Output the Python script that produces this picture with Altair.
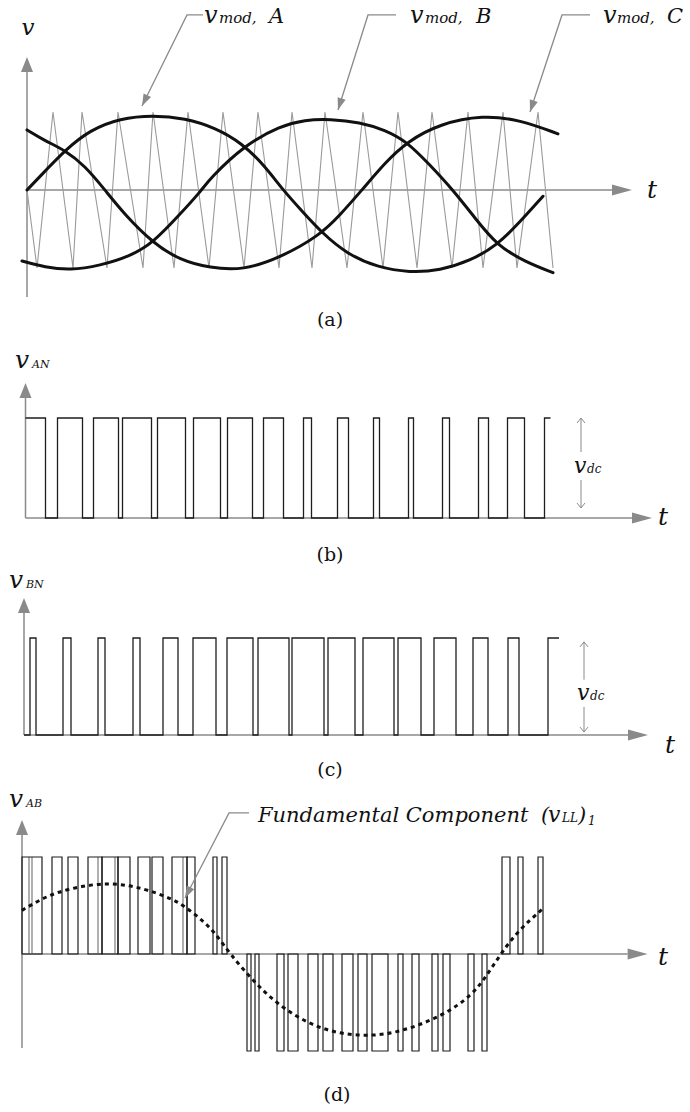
import math
import altair as alt
import pandas as pd

FIG_W = 690
SERIF = "DejaVu Serif"
INK = "#111111"
TRACE = "#1e1e1e"
GUIDE = "#8a8a8a"
CARRIER_GREY = "#9a9a9a"

# ---------------- (a) three-phase modulating signals and triangular carrier ----------------
# time t in arbitrary units from the start of the trace, amplitude v in per-unit of the carrier peak
carrier_valley_t = [10, 46, 80, 116, 147, 182, 217, 252, 285, 320, 356, 390, 425, 456, 490, 526]
carrier_peak_t = [26, 55, 91, 126, 161, 196, 231, 265, 298, 336, 371, 405, 441, 476, 511]

mod_a_t = [0, 18, 38, 63, 93, 126, 158, 188, 215, 237, 256, 275, 295, 320, 350, 383, 413, 443, 470, 493, 516]
mod_a_v = [0.0, 0.24, 0.51, 0.77, 0.92, 0.96, 0.92, 0.80, 0.60, 0.32, 0.0, -0.27, -0.55, -0.82, -0.99, -1.06, -1.03, -0.91, -0.71, -0.41, -0.08]

mod_b_t = [-5, 18, 43, 73, 103, 126, 153, 173, 183, 218, 253, 278, 303, 333, 358, 380, 403, 426, 448, 470, 498, 526]
mod_b_v = [-0.91, -0.99, -1.03, -0.97, -0.85, -0.68, -0.31, -0.03, 0.15, 0.58, 0.82, 0.90, 0.91, 0.87, 0.77, 0.62, 0.32, 0.0, -0.36, -0.71, -0.92, -1.06]

mod_c_t = [0, 18, 38, 58, 78, 98, 126, 153, 183, 216, 253, 293, 313, 335, 358, 380, 413, 456, 493, 531]
mod_c_v = [0.77, 0.63, 0.51, 0.31, 0.0, -0.32, -0.68, -0.90, -1.0, -1.03, -0.87, -0.58, -0.32, 0.0, 0.35, 0.62, 0.85, 0.96, 0.90, 0.72]

# ---------------- (b) phase-A pole voltage: switching instants ----------------
van_rise = [0, 32, 68, 97, 132, 168, 202, 238, 278, 312, 348, 383, 417, 453, 482, 519]
van_fall = [20, 57, 93, 126, 160, 195, 227, 258, 286, 323, 354, 388, 424, 463, 499]
van_end = 525

# ---------------- (c) phase-B pole voltage: switching instants ----------------
vbn_rise = [6, 39, 74, 109, 139, 169, 203, 234, 268, 304, 339, 374, 410, 449, 484, 524]
vbn_fall = [12, 47, 81, 116, 154, 192, 229, 265, 300, 331, 370, 397, 432, 464, 495]
vbn_end = 535

# ---------------- (d) line-to-line voltage pulses and its fundamental ----------------
vab_pos_start = [0, 30, 46, 66, 80, 96, 116, 130, 150, 165, 191, 200, 480, 496, 516]
vab_pos_end = [20, 40, 56, 80, 96, 108, 128, 141, 165, 173, 195, 205, 488, 501, 521]
vab_neg_start = [225, 233, 255, 266, 286, 301, 320, 336, 350, 376, 390, 410, 421, 446, 460]
vab_neg_end = [229, 237, 262, 276, 296, 311, 331, 345, 366, 381, 397, 416, 428, 452, 465]
vab_inner_edges = [7, 10, 76, 93, 161]

fund_t = [0, 18, 36, 60, 83, 106, 126, 150, 163, 180, 193, 208, 233, 260, 296, 333, 373, 423, 450, 463, 478, 496, 520]
fund_v = [0.45, 0.56, 0.64, 0.70, 0.73, 0.71, 0.66, 0.57, 0.49, 0.35, 0.22, 0.0, -0.30, -0.56, -0.77, -0.85, -0.83, -0.63, -0.42, -0.25, -0.01, 0.24, 0.46]

# ---------------- panel geometry (pixels) ----------------
PANELS = {
    "a": dict(top=0, height=335, zero=190, ppu=78, x0=27),
    "b": dict(top=335, height=222, zero=518, ppu=100, x0=25.5),
    "c": dict(top=557, height=233, zero=735, ppu=97, x0=24),
    "d": dict(top=790, height=322, zero=954, ppu=97, x0=22),
}

HEAD_V = "M0,0L-0.8,2L0.8,2Z"      # axis arrowhead, tip at origin
HEAD_H = "M0,0L-0.55,2L0.55,2Z"
HEAD_LEADER = "M0,0L-0.7,2L0.7,2Z"
CHEVRON = "M-0.8,1L0,0L0.8,1"


def X(p, field="t"):
    return alt.X(f"{field}:Q", axis=None,
                 scale=alt.Scale(domain=[-p["x0"], FIG_W - p["x0"]], nice=False, zero=False))


def Y(p, field="v"):
    z = p["zero"] - p["top"]
    return alt.Y(f"{field}:Q", axis=None,
                 scale=alt.Scale(domain=[(z - p["height"]) / p["ppu"], z / p["ppu"]], nice=False, zero=False))


def rules(p, segs, color, width):
    df = pd.DataFrame(segs, columns=["t", "v", "t2", "v2"])
    return alt.Chart(df).mark_rule(color=color, strokeWidth=width).encode(
        x=X(p), y=Y(p), x2="t2:Q", y2="v2:Q")


def heads(p, rows, color, filled=True, width=1.0):
    df = pd.DataFrame(rows, columns=["t", "v", "shape", "sz", "ang"])
    return alt.Chart(df).mark_point(filled=filled, opacity=1, color=color, strokeWidth=width).encode(
        x=X(p), y=Y(p),
        shape=alt.Shape("shape:N", scale=None),
        size=alt.Size("sz:Q", scale=None),
        angle=alt.Angle("ang:Q", scale=None))


def lines(p, df, **mark):
    return alt.Chart(df).mark_line(**mark).encode(x=X(p), y=Y(p), detail="id:N", order="i:Q")


def labels(p, rows):
    df = pd.DataFrame(rows, columns=["txt", "t", "v", "fs", "align", "baseline", "style"])
    out = []
    for (align, baseline, style), g in df.groupby(["align", "baseline", "style"]):
        out.append(alt.Chart(g).mark_text(font=SERIF, fontStyle=style, align=align,
                                          baseline=baseline, color=INK).encode(
            x=X(p), y=Y(p), text="txt:N", size=alt.Size("fs:Q", scale=None)))
    return out


def axes(p, v_bottom, v_base, v_tip, t_tip):
    segs = [(0, v_bottom, 0, v_base), (0, 0, t_tip - 20, 0)]
    tips = [(0, v_tip, HEAD_V, 225, 0), (t_tip, 0, HEAD_H, 400, 90)]
    return [rules(p, segs, GUIDE, 1.5), heads(p, tips, GUIDE)]


def leader(p, name, stub_end, corner, tip):
    df = pd.DataFrame({"id": name, "i": [0, 1, 2],
                       "t": [stub_end[0], corner[0], tip[0]],
                       "v": [stub_end[1], corner[1], tip[1]]})
    dx = tip[0] - corner[0]
    dy = -(tip[1] - corner[1]) * p["ppu"]
    ang = math.degrees(math.atan2(dx, -dy)) % 360
    return df, (tip[0], tip[1], HEAD_LEADER, 144, ang)


def vdc_marker(p, t, top, upper_end, lower_start, bottom):
    segs = [(t, top, t, upper_end), (t, lower_start, t, bottom)]
    tips = [(t, top, CHEVRON, 100, 0), (t, bottom, CHEVRON, 100, 180)]
    return [rules(p, segs, GUIDE, 1.0), heads(p, tips, GUIDE, filled=False, width=1.0)]


def step_trace(rises, falls, end):
    pts = [(0, 1)] if rises[0] == 0 else [(0, 0)]
    for k, r in enumerate(rises):
        if r > 0:
            pts += [(r, 0), (r, 1)]
        if k < len(falls):
            pts += [(falls[k], 1), (falls[k], 0)]
        else:
            pts.append((end, 1))
    return pd.DataFrame({"id": "trace", "i": range(len(pts)),
                         "t": [q[0] for q in pts], "v": [q[1] for q in pts]})


# ---------------- panel (a) ----------------
pa = PANELS["a"]
carrier_pts = [(0, 0.0)]
for k, tv in enumerate(carrier_valley_t):
    carrier_pts.append((tv, -1.0))
    if k < len(carrier_peak_t):
        carrier_pts.append((carrier_peak_t[k], 1.0))
carrier_df = pd.DataFrame({"id": "carrier", "i": range(len(carrier_pts)),
                           "t": [q[0] for q in carrier_pts], "v": [q[1] for q in carrier_pts]})

mods = []
for name, ts, vs in (("A", mod_a_t, mod_a_v), ("B", mod_b_t, mod_b_v), ("C", mod_c_t, mod_c_v)):
    mods.append(pd.DataFrame({"id": name, "i": range(len(ts)), "t": ts, "v": vs}))
mod_df = pd.concat(mods, ignore_index=True)

lead_rows, lead_heads = [], []
for name, stub, corner, tip in (("A", (176, 2.244), (160, 2.244), (115, 1.077)),
                                ("B", (369, 2.244), (341, 2.244), (311, 1.026)),
                                ("C", (563, 2.244), (535, 2.244), (503, 1.0))):
    d, h = leader(pa, name, stub, corner, tip)
    lead_rows.append(d)
    lead_heads.append(h)
lead_df = pd.concat(lead_rows, ignore_index=True)

LBL = 2.141
text_a = [
    ("v", 1, 1.987, 23, "center", "alphabetic", "italic"),
    ("t", 625, -0.103, 25, "center", "alphabetic", "italic"),
    ("v", 177, LBL, 24, "left", "alphabetic", "italic"),
    ("mod,", 192, LBL, 15, "left", "alphabetic", "italic"),
    ("A", 242, LBL, 21, "left", "alphabetic", "italic"),
    ("v", 383, LBL, 24, "left", "alphabetic", "italic"),
    ("mod,", 398, LBL, 15, "left", "alphabetic", "italic"),
    ("B", 449, LBL, 21, "left", "alphabetic", "italic"),
    ("v", 576, LBL, 24, "left", "alphabetic", "italic"),
    ("mod,", 590, LBL, 15, "left", "alphabetic", "italic"),
    ("C", 640, LBL, 21, "left", "alphabetic", "italic"),
    ("(a)", 303, -1.667, 19, "center", "middle", "normal"),
]

panel_a = alt.layer(
    *axes(pa, -1.372, 1.513, 1.705, 605),
    lines(pa, carrier_df, color=CARRIER_GREY, strokeWidth=1.1),
    lines(pa, mod_df, color=INK, strokeWidth=3, interpolate="basis", strokeCap="round"),
    lines(pa, lead_df, color=GUIDE, strokeWidth=1.3),
    heads(pa, lead_heads, GUIDE),
    *labels(pa, text_a),
).properties(width=FIG_W, height=pa["height"])

# ---------------- panel (b) ----------------
pb = PANELS["b"]
text_b = [
    ("v", -10.5, 1.5, 25, "left", "alphabetic", "italic"),
    ("AN", 6.5, 1.5, 11, "left", "alphabetic", "italic"),
    ("t", 637.5, -0.07, 25, "center", "alphabetic", "italic"),
    ("v", 548.5, 0.45, 22, "left", "alphabetic", "italic"),
    ("dc", 561.5, 0.45, 12, "left", "alphabetic", "italic"),
    ("(b)", 304.5, -0.37, 19, "center", "middle", "normal"),
]
panel_b = alt.layer(
    *axes(pb, 0, 1.21, 1.35, 626.5),
    lines(pb, step_trace(van_rise, van_fall, van_end), color=TRACE, strokeWidth=1.3),
    *vdc_marker(pb, 555.5, 1.0, 0.66, 0.38, 0.10),
    *labels(pb, text_b),
).properties(width=FIG_W, height=pb["height"])

# ---------------- panel (c) ----------------
pc = PANELS["c"]
text_c = [
    ("v", -15, 1.515, 25, "left", "alphabetic", "italic"),
    ("BN", 2, 1.515, 11, "left", "alphabetic", "italic"),
    ("t", 646, -0.186, 25, "center", "alphabetic", "italic"),
    ("v", 553, 0.36, 22, "left", "alphabetic", "italic"),
    ("dc", 566, 0.36, 12, "left", "alphabetic", "italic"),
    ("(c)", 306, -0.361, 19, "center", "middle", "normal"),
]
panel_c = alt.layer(
    *axes(pc, 0, 1.268, 1.412, 624),
    lines(pc, step_trace(vbn_rise, vbn_fall, vbn_end), color=TRACE, strokeWidth=1.3),
    *vdc_marker(pc, 560, 0.96, 0.57, 0.29, 0.03),
    *labels(pc, text_c),
).properties(width=FIG_W, height=pc["height"])

# ---------------- panel (d) ----------------
pd_ = PANELS["d"]
pulse_df = pd.DataFrame({
    "t": vab_pos_start + vab_neg_start,
    "t2": vab_pos_end + vab_neg_end,
    "v": [0.0] * (len(vab_pos_start) + len(vab_neg_start)),
    "v2": [1.0] * len(vab_pos_start) + [-1.0] * len(vab_neg_start),
})
pulses = alt.Chart(pulse_df).mark_rect(fillOpacity=0, stroke=TRACE, strokeWidth=1.2).encode(
    x=X(pd_), x2="t2:Q", y=Y(pd_), y2="v2:Q")
inner = rules(pd_, [(t, 0, t, 1.0) for t in vab_inner_edges], "#9c9c9c", 1.6)
fund_df = pd.DataFrame({"id": "fund", "i": range(len(fund_t)), "t": fund_t, "v": fund_v})
fl_df, fl_head = leader(pd_, "fund", (227, 1.454), (207, 1.454), (163, 0.577))

text_d = [
    ("v", -13, 1.515, 25, "left", "alphabetic", "italic"),
    ("AB", 4, 1.515, 11, "left", "alphabetic", "italic"),
    ("t", 641, -0.113, 25, "center", "alphabetic", "italic"),
    ("Fundamental Component", 236, 1.361, 21, "left", "alphabetic", "italic"),
    ("(", 519, 1.361, 21, "left", "alphabetic", "italic"),
    ("v", 526, 1.361, 22, "left", "alphabetic", "italic"),
    ("LL", 540, 1.361, 12, "left", "alphabetic", "italic"),
    (")", 556, 1.361, 21, "left", "alphabetic", "italic"),
    ("1", 566, 1.33, 12, "left", "alphabetic", "italic"),
    ("(d)", 315, -1.454, 19, "center", "middle", "normal"),
]
panel_d = alt.layer(
    *axes(pd_, -0.969, 1.258, 1.381, 625.6),
    inner,
    pulses,
    lines(pd_, fund_df, color=INK, strokeWidth=3, interpolate="basis", strokeDash=[4, 4]),
    lines(pd_, fl_df, color=GUIDE, strokeWidth=1.3),
    heads(pd_, [fl_head], GUIDE),
    *labels(pd_, text_d),
).properties(width=FIG_W, height=pd_["height"])

chart = (
    alt.vconcat(panel_a, panel_b, panel_c, panel_d, spacing=0, bounds="flush")
    .resolve_scale(x="independent", y="independent")
    .properties(padding=0)
    .configure_view(stroke=None)
)

chart.save("out.html", embed_options={"renderer": "svg", "actions": False})
